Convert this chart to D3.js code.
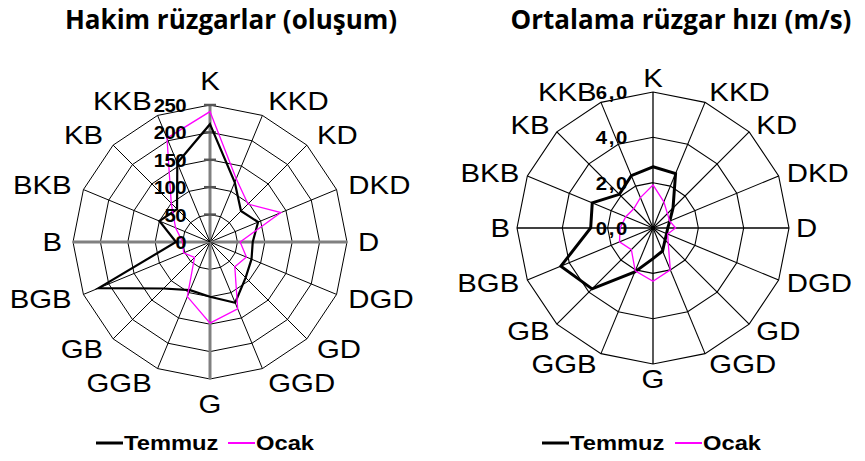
<!DOCTYPE html>
<html>
<head>
<meta charset="utf-8">
<script src="https://cdn.jsdelivr.net/npm/d3@7"></script>
<style>
  body { margin: 0; background: #fff; }
  svg { display: block; }
</style>
</head>
<body>
<div id="chart"></div>
<script>
// yönler (saat yönünde, kuzeyden başlayarak)
const categories = ["K", "KKD", "KD", "DKD", "D", "DGD", "GD", "GGD", "G", "GGB", "GB", "BGB", "B", "BKB", "KB", "KKB"];

// Hakim rüzgarlar (oluşum sayısı)
const hakimTemmuz = [215, 118, 80, 95, 78, 82, 92, 120, 100, 95, 120, 220, 62, 100, 85, 156];
const hakimOcak   = [238, 125, 98, 140, 55, 72, 64, 132, 148, 108, 40, 52, 50, 68, 100, 205];
const hakimTicks  = [0, 50, 100, 150, 200, 250];

// Ortalama rüzgar hızı (m/s)
const hizTemmuz = [2.7, 2.6, 1.25, 0.8, 0.65, 0.65, 0.75, 1.1, 1.35, 2.1, 3.8, 4.4, 2.75, 2.9, 2.1, 2.5];
const hizOcak   = [1.9, 1.25, 0.9, 0.8, 1.0, 0.7, 0.95, 2.0, 2.35, 2.05, 1.35, 1.6, 1.45, 1.3, 1.2, 1.45];
const hizTicks  = [0, 2, 4, 6];

const seriesNames = ["Temmuz", "Ocak"];
const seriesColors = ["#000000", "#ff00ff"];

const W = 865, H = 461;
const SX = 1.13; // metinler yatayda biraz geniş

const svg = d3.select("#chart").append("svg")
    .attr("width", W)
    .attr("height", H)
    .attr("viewBox", `0 0 ${W} ${H}`);

// yatay ölçekli metin yardımcısı
function stretchedText(parent, x, y, str, sx = SX) {
    return parent.append("text")
        .attr("transform", `translate(${x},${y}) scale(${sx},1)`)
        .text(str);
}

function drawRadar(opt) {
    const g = svg.append("g").attr("transform", `translate(${opt.cx},${opt.cy})`);

    const rScale = d3.scaleLinear()
        .domain([0, d3.max(opt.ticks)])
        .range([0, opt.R]);

    const aScale = d3.scaleBand()
        .domain(categories)
        .range([0, 2 * Math.PI]);

    const point = (c, v) => {
        const a = aScale(c);
        return [Math.sin(a) * rScale(v), -Math.cos(a) * rScale(v)];
    };

    // halkalar (çokgen)
    opt.ticks.slice(1).forEach(t => {
        g.append("path")
            .attr("d", d3.line()(categories.map(c => point(c, t))) + "Z")
            .attr("fill", "none")
            .attr("stroke", "#000")
            .attr("stroke-width", opt.gridWidth);
    });

    // eksenler
    categories.forEach((c, i) => {
        const [x, y] = point(c, d3.max(opt.ticks));
        const main = i % 4 === 0;
        g.append("line")
            .attr("x1", 0).attr("y1", 0)
            .attr("x2", x).attr("y2", y)
            .attr("stroke", main ? opt.mainAxisColor : "#000")
            .attr("stroke-width", main ? opt.mainAxisWidth : opt.gridWidth);
    });

    // değer ekseni çentikleri
    if (opt.tickMarks) {
        opt.ticks.slice(1).forEach(t => {
            g.append("line")
                .attr("x1", -6).attr("x2", 6)
                .attr("y1", -rScale(t)).attr("y2", -rScale(t))
                .attr("stroke", "#555")
                .attr("stroke-width", 2.5);
        });
    }

    // seriler
    const radial = d3.lineRadial()
        .angle(d => aScale(d.c))
        .radius(d => rScale(d.v))
        .curve(d3.curveLinearClosed);

    opt.series.forEach((s, i) => {
        g.append("path")
            .datum(categories.map((c, j) => ({ c: c, v: s[j] })))
            .attr("d", radial)
            .attr("fill", "none")
            .attr("stroke", seriesColors[i])
            .attr("stroke-width", opt.lineWidths[i])
            .attr("stroke-linejoin", "miter");
    });

    // değer etiketleri
    const vl = g.append("g")
        .attr("font-family", "Arial, 'Liberation Sans', sans-serif")
        .attr("font-weight", "bold")
        .attr("font-size", 18)
        .attr("text-anchor", "end")
        .attr("letter-spacing", opt.labelSpacing);
    opt.ticks.forEach(t => {
        stretchedText(vl, -24, -rScale(t) + 7, opt.fmt(t));
    });

    // yön etiketleri
    const cl = g.append("g")
        .attr("font-family", "Arial, 'Liberation Sans', sans-serif")
        .attr("font-size", 26);
    categories.forEach(c => {
        const a = aScale(c);
        const sn = Math.sin(a), cs = Math.cos(a);
        const rr = opt.R + opt.labelGap + Math.abs(cs) * 4.5;
        const k = Math.abs(cs) > 0.99 ? opt.poleExtra : 0;
        const x = sn * rr;
        const y = -cs * rr - cs * k + 9;
        stretchedText(cl, x, y, c)
            .attr("text-anchor", sn > 0.1 ? "start" : (sn < -0.1 ? "end" : "middle"));
    });

    // başlık
    stretchedText(svg, opt.titleX, 29, opt.title, 1)
        .attr("text-anchor", "middle")
        .attr("font-family", "'Open Sans', sans-serif")
        .attr("font-weight", "bold")
        .attr("font-size", 26);

    // lejant
    const lg = svg.append("g")
        .attr("font-family", "Arial, 'Liberation Sans', sans-serif")
        .attr("font-weight", "bold")
        .attr("font-size", 21);
    seriesNames.forEach((n, i) => {
        const x0 = opt.legendX[i];
        lg.append("line")
            .attr("x1", x0).attr("x2", x0 + 27)
            .attr("y1", 443).attr("y2", 443)
            .attr("stroke", seriesColors[i])
            .attr("stroke-width", i === 0 ? 3 : 2);
        stretchedText(lg, x0 + 28, 450, n);
    });
}

drawRadar({
    cx: 210, cy: 242, R: 137,
    ticks: hakimTicks,
    fmt: d3.format("d"),
    series: [hakimTemmuz, hakimOcak],
    lineWidths: [2.2, 1.3],
    gridWidth: 1,
    mainAxisColor: "#808080",
    mainAxisWidth: 3,
    tickMarks: true,
    labelSpacing: -0.5,
    labelGap: 11,
    poleExtra: 9,
    title: "Hakim rüzgarlar (oluşum)",
    titleX: 231,
    legendX: [96, 228]
});

drawRadar({
    cx: 653, cy: 228, R: 136,
    ticks: hizTicks,
    fmt: t => d3.format(".1f")(t).replace(".", ","),
    series: [hizTemmuz, hizOcak],
    lineWidths: [3, 1.3],
    gridWidth: 1.1,
    mainAxisColor: "#000",
    mainAxisWidth: 1.3,
    tickMarks: false,
    labelSpacing: 1.5,
    labelGap: 7,
    poleExtra: 3,
    title: "Ortalama rüzgar hızı (m/s)",
    titleX: 681,
    legendX: [542, 675]
});
</script>
</body>
</html>
